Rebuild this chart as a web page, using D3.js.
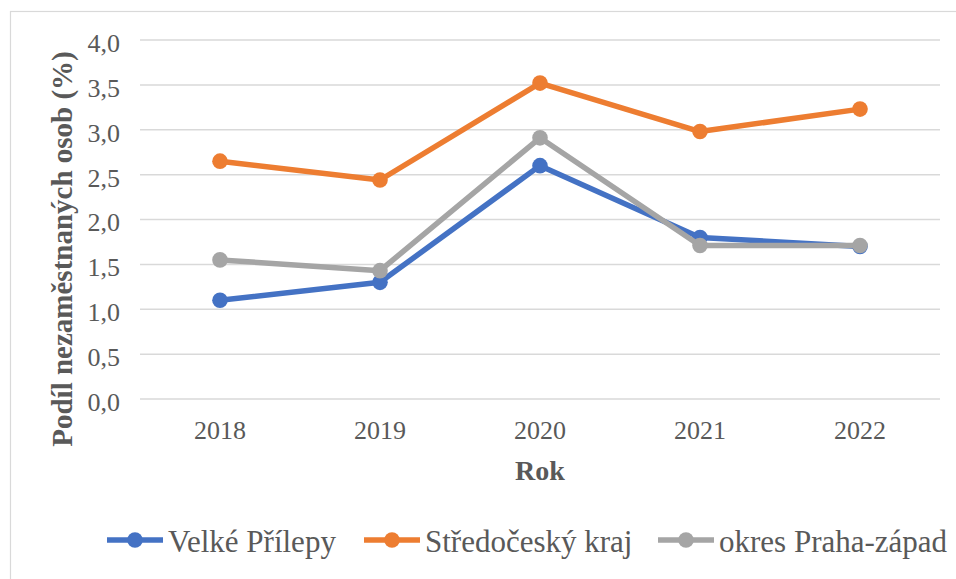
<!DOCTYPE html>
<html>
<head>
<meta charset="utf-8">
<script src="https://cdn.jsdelivr.net/npm/d3@7"></script>
<style>
  body { margin: 0; background: #fff; }
  svg { display: block; }
  text { font-family: "Liberation Serif", "Times New Roman", serif; }
</style>
</head>
<body>
<div id="chart"></div>
<script>
var years = ['2018', '2019', '2020', '2021', '2022'];
var yTicks = [0, 0.5, 1, 1.5, 2, 2.5, 3, 3.5, 4];
var velkePrilepy = [1.1, 1.3, 2.6, 1.8, 1.7];
var stredocesky = [2.65, 2.44, 3.52, 2.98, 3.23];
var prahaZapad = [1.55, 1.43, 2.91, 1.71, 1.71];
var seriesNames = ['Velké Přílepy', 'Středočeský kraj', 'okres Praha-západ'];
var seriesColors = ['#4472C4', '#ED7D31', '#A5A5A5'];

var width = 956, height = 579;
var plot = { left: 140, right: 940, top: 40, bottom: 399 };
var serif = '"Liberation Serif", "Times New Roman", serif';

var svg = d3.select('#chart').append('svg')
  .attr('width', width)
  .attr('height', height);

// outer chart frame
svg.append('rect')
  .attr('x', 10.5).attr('y', 11.5)
  .attr('width', width).attr('height', height)
  .attr('fill', 'none')
  .attr('stroke', '#D9D9D9')
  .attr('stroke-width', 1.2);

var x = d3.scaleBand().domain(years).range([plot.left, plot.right]);
var y = d3.scaleLinear().domain([0, 4]).range([plot.bottom, plot.top]);

// gridlines
svg.append('g').selectAll('line')
  .data(yTicks).enter().append('line')
  .attr('x1', plot.left).attr('x2', plot.right)
  .attr('y1', function(d) { return y(d); })
  .attr('y2', function(d) { return y(d); })
  .attr('stroke', '#D9D9D9')
  .attr('stroke-width', 1.5);

var yAxis = d3.axisLeft(y)
  .tickValues(yTicks)
  .tickSize(0)
  .tickPadding(20)
  .tickFormat(function(d) { return d3.format('.1f')(d).replace('.', ','); });

var gy = svg.append('g')
  .attr('transform', 'translate(' + plot.left + ',0)')
  .call(yAxis);
gy.select('.domain').remove();
gy.selectAll('text')
  .attr('font-size', 26)
  .attr('dy', '0.44em')
  .attr('fill', '#595959')
  .style('font-family', serif);

var xAxis = d3.axisBottom(x).tickSize(0).tickPadding(22);
var gx = svg.append('g')
  .attr('transform', 'translate(0,' + plot.bottom + ')')
  .call(xAxis);
gx.select('.domain').remove();
gx.selectAll('text')
  .attr('font-size', 26)
  .attr('fill', '#595959')
  .style('font-family', serif);

// axis titles
svg.append('text')
  .attr('x', 540).attr('y', 480)
  .attr('text-anchor', 'middle')
  .attr('font-size', 28)
  .attr('font-weight', 'bold')
  .attr('fill', '#595959')
  .text('Rok');

svg.append('text')
  .attr('transform', 'translate(72,249) rotate(-90)')
  .attr('text-anchor', 'middle')
  .attr('font-size', 29)
  .attr('font-weight', 'bold')
  .attr('fill', '#595959')
  .text('Podíl nezaměstnaných osob (%)');

var data = [velkePrilepy, stredocesky, prahaZapad];
var line = d3.line()
  .x(function(d, i) { return x(years[i]) + x.bandwidth() / 2; })
  .y(function(d) { return y(d); });

// draw in order so grey ends on top
data.forEach(function(values, s) {
  var g = svg.append('g');
  g.append('path')
    .datum(values)
    .attr('d', line)
    .attr('fill', 'none')
    .attr('stroke', seriesColors[s])
    .attr('stroke-width', 5.5)
    .attr('stroke-linejoin', 'round');
  g.selectAll('circle')
    .data(values).enter().append('circle')
    .attr('cx', function(d, i) { return x(years[i]) + x.bandwidth() / 2; })
    .attr('cy', function(d) { return y(d); })
    .attr('r', 7.8)
    .attr('fill', seriesColors[s]);
});

// legend
var legendX = [107, 364, 658];
var legend = svg.append('g');
seriesNames.forEach(function(name, s) {
  var lg = legend.append('g').attr('transform', 'translate(' + legendX[s] + ',540)');
  lg.append('line')
    .attr('x1', 0).attr('x2', 56)
    .attr('y1', 0).attr('y2', 0)
    .attr('stroke', seriesColors[s])
    .attr('stroke-width', 5.5);
  lg.append('circle')
    .attr('cx', 28).attr('cy', 0).attr('r', 7.8)
    .attr('fill', seriesColors[s]);
  lg.append('text')
    .attr('x', 61).attr('y', 12)
    .attr('font-size', 31)
    .attr('fill', '#595959')
    .text(name);
});
</script>
</body>
</html>
